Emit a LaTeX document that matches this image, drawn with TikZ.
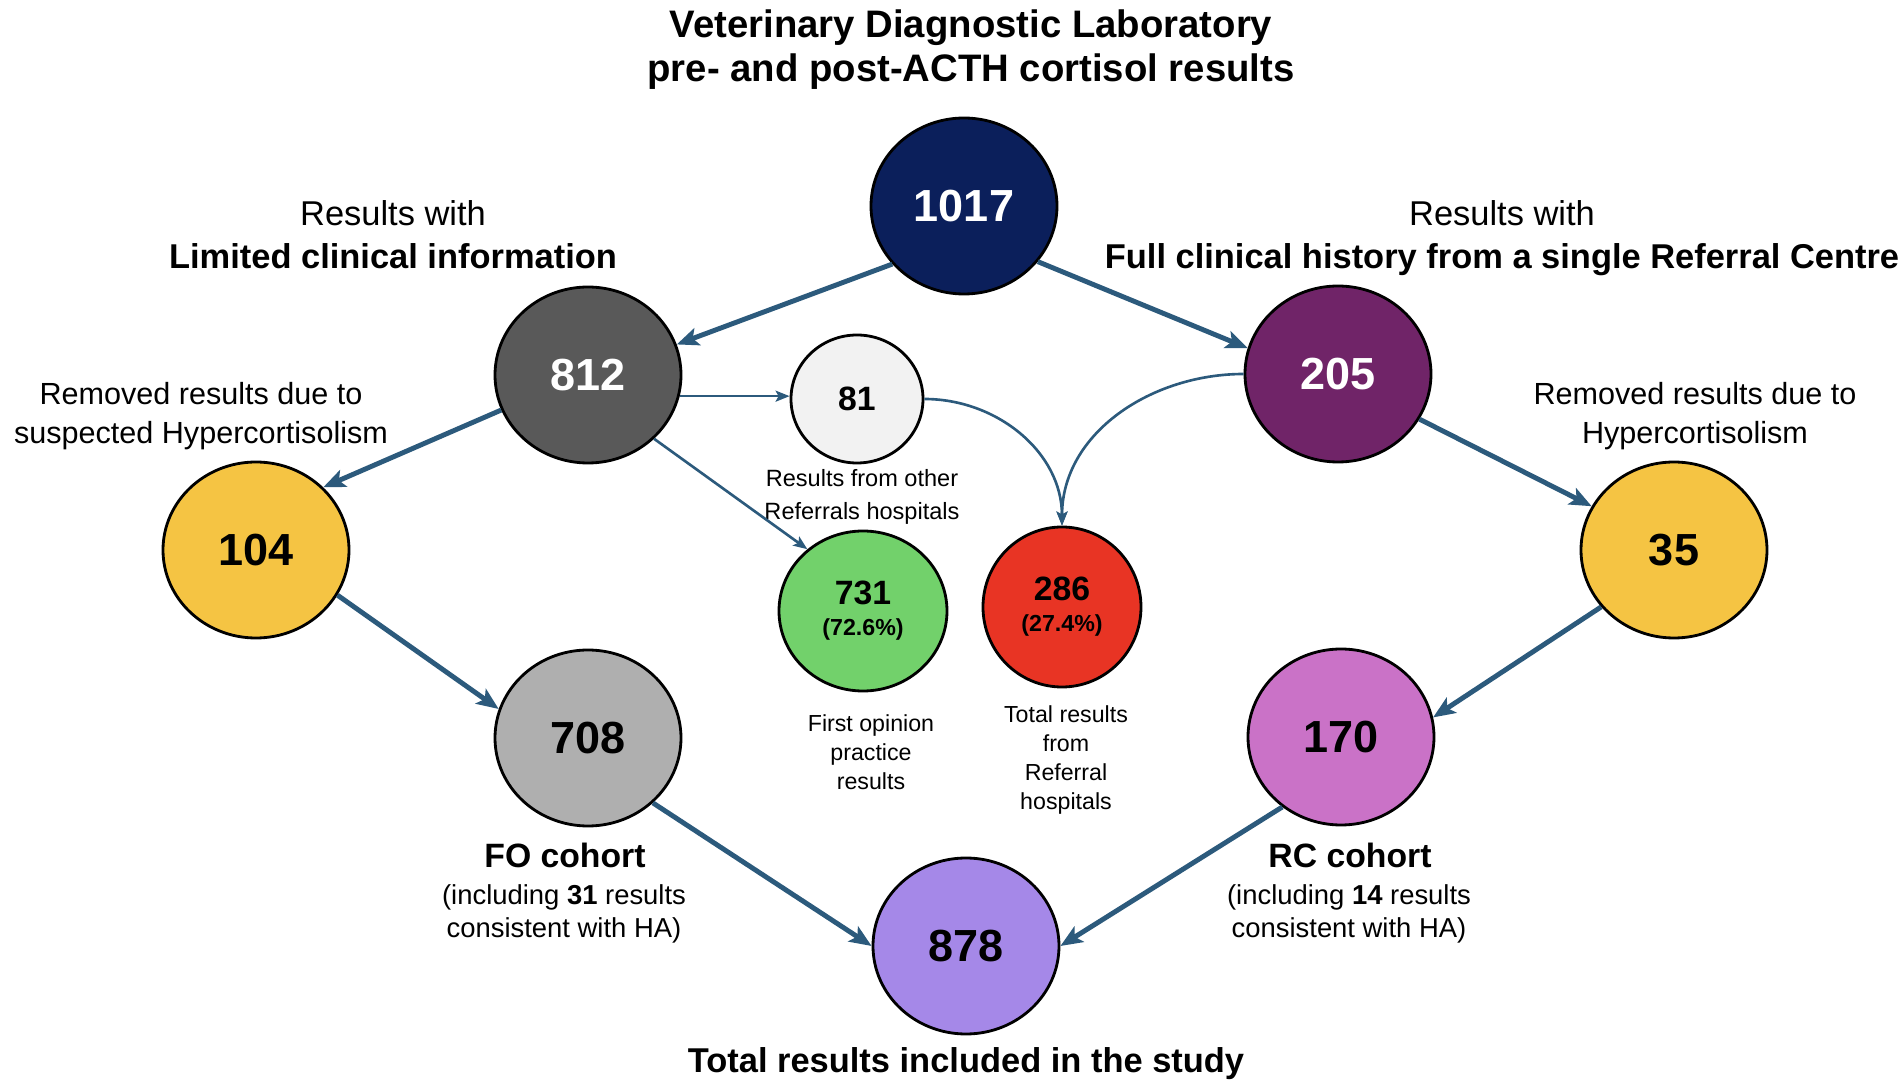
\documentclass[tikz,border=0pt]{standalone}
\usepackage{fontspec}
\setmainfont{Liberation Sans}
\usetikzlibrary{shapes.geometric,arrows.meta}

\definecolor{cNavy}{HTML}{0B1F5B}
\definecolor{cDkGrey}{HTML}{595959}
\definecolor{cLtGrey}{HTML}{F2F2F2}
\definecolor{cPurple}{HTML}{702468}
\definecolor{cYellow}{HTML}{F5C443}
\definecolor{cGreen}{HTML}{72D16B}
\definecolor{cRed}{HTML}{E83424}
\definecolor{cMdGrey}{HTML}{AFAFAF}
\definecolor{cPink}{HTML}{CA72C7}
\definecolor{cLavender}{HTML}{A588E8}
\definecolor{cArrow}{HTML}{2C5A7C}

\newcommand{\FtTitle}{\fontsize{10.9}{12.5}\selectfont\bfseries}
\newcommand{\FtHead}{\fontsize{9.8}{12.2}\selectfont}
\newcommand{\FtRem}{\fontsize{8.7}{11.1}\selectfont}
\newcommand{\FtSmall}{\fontsize{6.7}{9.4}\selectfont}
\newcommand{\FtTiny}{\fontsize{6.6}{8.25}\selectfont}
\newcommand{\FtCohort}{\fontsize{9.6}{11}\selectfont\bfseries}
\newcommand{\FtDetail}{\fontsize{7.8}{9.4}\selectfont}
\newcommand{\NumBig}{\fontsize{12.8}{14}\selectfont\bfseries}
\newcommand{\NumMid}{\fontsize{9.6}{8.8}\selectfont\bfseries}
\newcommand{\NumPct}{\fontsize{6.6}{8}\selectfont\bfseries}

\begin{document}
\begin{tikzpicture}[
		cnt/.style={ellipse, draw=black, line width=0.8pt, inner sep=0pt,
			minimum width=1.86cm, minimum height=1.76cm, font=\NumBig},
		lbl/.style={anchor=north, inner sep=0pt, align=center},
		flow/.style={draw=cArrow, line width=1.4pt,
			arrows={-Stealth[length=0.22cm,width=0.18cm,inset=0.05cm]}},
		split/.style={draw=cArrow, line width=0.75pt,
			arrows={-Stealth[length=0.14cm,width=0.11cm,inset=0.03cm]}}]
			\useasboundingbox (0,0) rectangle (19.01,-10.83);
			
			% Titre
			\node[lbl, font=\FtTitle] (title) at (9.71,-0.09)
				{Veterinary Diagnostic Laboratory\\pre- and post-ACTH cortisol results};
			
			% Cercles
			\node[cnt, fill=cNavy, text=white] (n1017) at (9.64,-2.06) {1017};
			\node[cnt, fill=cDkGrey, text=white] (n812) at (5.88,-3.75) {812};
			\node[cnt, fill=cPurple, text=white] (n205) at (13.38,-3.74) {205};
			\node[cnt, fill=cLtGrey, minimum width=1.32cm, minimum height=1.28cm,
				font=\NumMid] (n81) at (8.57,-3.99) {81};
			\node[cnt, fill=cYellow] (n104) at (2.56,-5.50) {104};
			\node[cnt, fill=cYellow] (n35) at (16.74,-5.50) {35};
			\node[cnt, fill=cGreen, minimum width=1.68cm, minimum height=1.60cm,
				font=\NumMid, align=center] (n731) at (8.63,-6.11) {731\\{\NumPct(72.6\%)}};
			\node[cnt, fill=cRed, minimum width=1.58cm, minimum height=1.60cm,
				font=\NumMid, align=center] (n286) at (10.62,-6.07) {286\\{\NumPct(27.4\%)}};
			\node[cnt, fill=cMdGrey] (n708) at (5.88,-7.38) {708};
			\node[cnt, fill=cPink] (n170) at (13.41,-7.37) {170};
			\node[cnt, fill=cLavender] (n878) at (9.66,-9.46) {878};
			
			% Textes
			\node[lbl, font=\FtHead] (hdL) at (3.93,-2.00)
				{Results with\\\textbf{Limited clinical information}};
			\node[lbl, font=\FtHead] (hdR) at (15.02,-2.00)
				{Results with\\\textbf{Full clinical history from a single Referral Centre}};
			\node[lbl, font=\FtRem] (rmL) at (2.01,-3.82)
				{Removed results due to\\suspected Hypercortisolism};
			\node[lbl, font=\FtRem] (rmR) at (16.95,-3.82)
				{Removed results due to\\Hypercortisolism};
			\node[lbl, font=\FtSmall] (lb81) at (8.62,-4.69)
				{Results from other\\Referrals hospitals};
			\node[lbl, font=\FtTiny] (lb731) at (8.71,-7.14)
				{First opinion\\practice\\results};
			\node[lbl, font=\FtTiny] (lb286) at (10.66,-7.05)
				{Total results\\from\\Referral\\hospitals};
			\node[lbl, font=\FtCohort] (coFO) at (5.65,-8.42) {FO cohort};
			\node[lbl, font=\FtDetail] (dtFO) at (5.64,-8.84)
				{(including \textbf{31} results\\consistent with HA)};
			\node[lbl, font=\FtCohort] (coRC) at (13.50,-8.42) {RC cohort};
			\node[lbl, font=\FtDetail] (dtRC) at (13.49,-8.84)
				{(including \textbf{14} results\\consistent with HA)};
			\node[lbl, font=\FtHead\bfseries] (total) at (9.66,-10.47)
				{Total results included in the study};
			
			% Branche gauche
			\draw[flow] (n1017.219) -- (n812.19);
			\draw[flow] (n812.202) -- (n104.43);
			\draw[flow] (n104.-29) -- (n708.162);
			\draw[flow] (n708.-45) -- (n878.180);
			
			% Branche droite
			\draw[flow] (n1017.-37) -- (n205.164);
			\draw[flow] (n205.-29) -- (n35.152);
			\draw[flow] (n35.218) -- (n170.12);
			\draw[flow] (n170.230) -- (n878.0);
			
			% Repartition
			\draw[split] (n812.-13) -- (n812.-13 -| n81.west);
			\draw[split] (n812.-44) -- (n731.132);
			\draw[split] (n81.east) to[out=0, in=90] (n286.north);
			\draw[split] (n205.west) to[out=180, in=90] (n286.north);
		\end{tikzpicture}
\end{document}
